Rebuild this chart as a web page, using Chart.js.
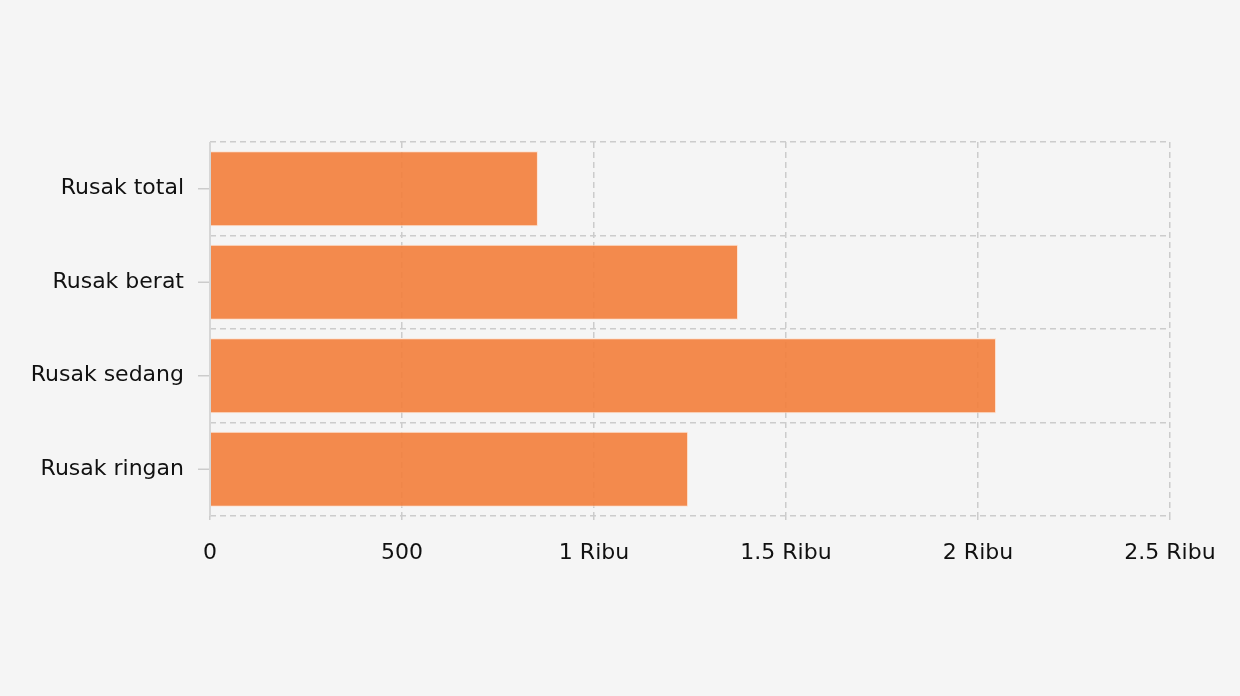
<!DOCTYPE html>
<html>
<head>
<meta charset="utf-8">
<script src="https://cdn.jsdelivr.net/npm/chart.js@4/dist/chart.umd.min.js"></script>
<style>
html,body{margin:0;padding:0;background:#f5f5f5;}
#wrap{width:1240px;height:696px;position:relative;}
</style>
</head>
<body>
<div id="wrap"><canvas id="c" width="1240" height="696"></canvas></div>
<script>
const categories = ['Rusak total', 'Rusak berat', 'Rusak sedang', 'Rusak ringan'];
const values = [854, 1375, 2047, 1245];
const xTickValues = [0, 500, 1000, 1500, 2000, 2500];
const xTickLabels = ['0', '500', '1 Ribu', '1.5 Ribu', '2 Ribu', '2.5 Ribu'];

const yTickMarks = {
  id: 'yTickMarks',
  afterDatasetsDraw(chart) {
    const ys = chart.scales.y, ctx = chart.ctx;
    const a = chart.chartArea;
    ctx.save();
    ctx.strokeStyle = '#d6d6d6';
    ctx.lineWidth = 2;
    ctx.beginPath();
    ctx.moveTo(a.left, a.top);
    ctx.lineTo(a.left, a.bottom);
    ctx.stroke();
    ctx.strokeStyle = '#cccccc';
    ctx.lineWidth = 1.5;
    categories.forEach((c, i) => {
      const y = ys.getPixelForValue(i);
      ctx.beginPath();
      ctx.moveTo(a.left - 12, y);
      ctx.lineTo(a.left - 1, y);
      ctx.stroke();
    });
    ctx.restore();
  }
};

new Chart(document.getElementById('c'), {
  type: 'bar',
  data: {
    labels: categories,
    datasets: [{
      data: values,
      backgroundColor: 'rgba(242,128,62,0.92)',
      borderColor: 'rgba(255,225,205,0.9)',
      borderWidth: 1,
      categoryPercentage: 1,
      barPercentage: 0.8
    }]
  },
  options: {
    indexAxis: 'y',
    responsive: false,
    animation: false,
    layout: { padding: { top: 142, right: 70, left: 0, bottom: 0 } },
    plugins: { legend: { display: false }, tooltip: { enabled: false } },
    scales: {
      x: {
        min: 0, max: 2500,
        afterBuildTicks(scale) { scale.ticks = xTickValues.map(v => ({ value: v })); },
        afterFit(scale) { scale.height = 180; },
        ticks: {
          color: '#111111',
          font: { family: 'DejaVu Sans', size: 22 },
          padding: 20,
          maxRotation: 0,
          callback: (v) => { const i = xTickValues.indexOf(v); return i >= 0 ? xTickLabels[i] : ''; }
        },
        grid: { color: '#cccccc', lineWidth: 1.5, tickLength: 4, drawTicks: true },
        border: { display: false, dash: [6, 4] }
      },
      y: {
        afterFit(scale) { scale.width = 210; },
        ticks: {
          color: '#111111',
          font: { family: 'DejaVu Sans', size: 22 },
          padding: 26
        },
        grid: { color: '#cccccc', lineWidth: 1.5, drawTicks: false, offset: true },
        border: { display: false, dash: [6, 4] }
      }
    }
  },
  plugins: [yTickMarks]
});
</script>
</body>
</html>
